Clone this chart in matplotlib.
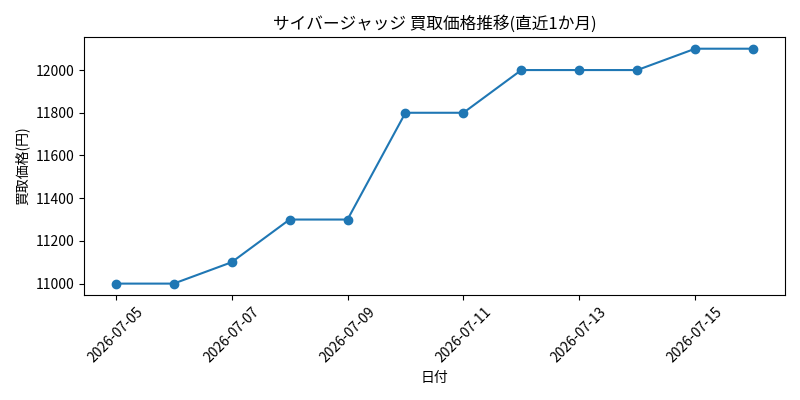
import matplotlib
matplotlib.use("Agg")
import matplotlib.pyplot as plt
import matplotlib.dates as mdates
import numpy as np

plt.rcParams["font.family"] = ["Noto Sans CJK JP", "DejaVu Sans"]

dates = [
    "2026-07-05", "2026-07-06", "2026-07-07", "2026-07-08",
    "2026-07-09", "2026-07-10", "2026-07-11", "2026-07-12",
    "2026-07-13", "2026-07-14", "2026-07-15", "2026-07-16",
]
prices = [11000, 11000, 11100, 11300, 11300, 11800,
          11800, 12000, 12000, 12000, 12100, 12100]


def main():
    x = np.array(dates, dtype="datetime64[D]")
    fig, ax = plt.subplots(figsize=(8, 4), dpi=100)
    ax.plot(x, prices, marker="o", color="#1f77b4")
    ax.set_title("サイバージャッジ 買取価格推移(直近1か月)")
    ax.set_xlabel("日付")
    ax.set_ylabel("買取価格(円)")
    ax.set_xticks(x[::2])
    ax.xaxis.set_major_formatter(mdates.DateFormatter("%Y-%m-%d"))
    plt.setp(ax.get_xticklabels(), rotation=45)
    fig.tight_layout()
    fig.savefig("out.png")


if __name__ == "__main__":
    main()
